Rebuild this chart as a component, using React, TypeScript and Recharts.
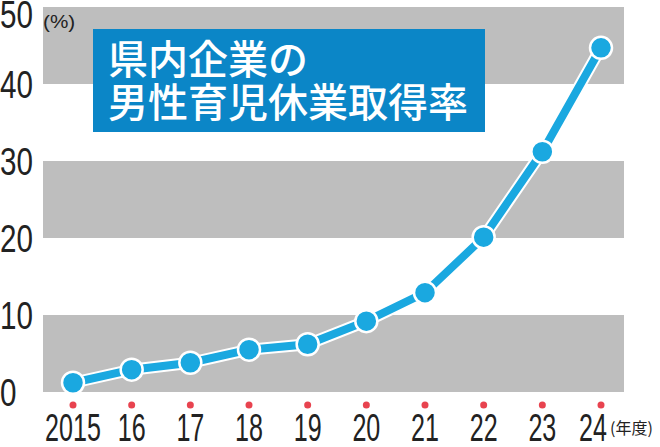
import { LineChart, Line, XAxis, YAxis, CartesianGrid } from 'recharts';

const YEARS = ['2015', '16', '17', '18', '19', '20', '21', '22', '23', '24'];
const RATES = [1.2, 2.9, 3.8, 5.5, 6.2, 9.2, 12.9, 20.1, 31.2, 44.7];
const Y_TICKS = [0, 10, 20, 30, 40, 50];
const TITLE = ['県内企業の', '男性育児休業取得率'];

const BLUE = '#1aa8e0';
const GRAY = '#bebebe';
const NUM_FONT = '"Liberation Sans", Arial, sans-serif';
const JP_FONT = '"Noto Sans CJK JP", "Noto Sans", sans-serif';

const data = YEARS.map((year, i) => ({ year, rate: RATES[i] }));

// condensed numerals: squeeze the glyphs horizontally
function YTick(props: any) {
  const { y, payload } = props;
  const base = Math.max(y + 14, 28);
  return (
    <g>
      <g transform={`translate(0,${base}) scale(0.76,1)`}>
        <text x={0} y={0} fontSize={39} fontFamily={NUM_FONT} fill="#222">
          {payload.value}
        </text>
      </g>
      {payload.value === 50 && (
        <g transform="translate(43,28) scale(1.15,1)">
          <text x={0} y={0} fontSize={18} fontFamily={NUM_FONT} fill="#222">
            (%)
          </text>
        </g>
      )}
    </g>
  );
}

function XTick(props: any) {
  const { x, payload, index } = props;
  const last = index === YEARS.length - 1;
  return (
    <g>
      <circle cx={x} cy={405} r={3.5} fill="#e8434f" />
      <g transform={`translate(${last ? x + 6 : x},441) scale(0.66,1)`}>
        <text
          x={0}
          y={0}
          textAnchor={last ? 'end' : 'middle'}
          fontSize={38}
          fontFamily={NUM_FONT}
          fill="#222"
        >
          {payload.value}
        </text>
      </g>
      {last && (
        <text x={x + 9} y={434} fontSize={16} fontFamily={JP_FONT} fill="#222">
          (年度)
        </text>
      )}
    </g>
  );
}

export default function App() {
  return (
    <div style={{ position: 'absolute', left: 0, top: 0, width: 660, height: 447, background: '#fff' }}>
      <LineChart width={660} height={447} data={data} margin={{ top: 7, right: 36, left: 0, bottom: 0 }}>
        <CartesianGrid
          vertical={false}
          stroke="none"
          horizontalFill={[GRAY, '#fff']}
          fillOpacity={1}
        />
        <XAxis
          dataKey="year"
          height={55}
          axisLine={false}
          tickLine={false}
          interval={0}
          padding={{ left: 30, right: 23 }}
          tick={<XTick />}
        />
        <YAxis
          domain={[0, 50]}
          ticks={Y_TICKS}
          width={43}
          axisLine={false}
          tickLine={false}
          interval={0}
          tick={<YTick />}
        />
        <Line
          dataKey="rate"
          stroke="#fff"
          strokeWidth={12}
          dot={false}
          activeDot={false}
          isAnimationActive={false}
        />
        <Line
          dataKey="rate"
          stroke={BLUE}
          strokeWidth={8}
          dot={{ r: 11, fill: BLUE, stroke: '#fff', strokeWidth: 2.5 }}
          activeDot={false}
          isAnimationActive={false}
        />
      </LineChart>
      <div
        style={{
          position: 'absolute',
          left: 93,
          top: 29,
          width: 377,
          height: 96,
          padding: '7px 0 0 15px',
          background: '#0b86c7',
          color: '#fff',
          fontFamily: JP_FONT,
          fontWeight: 500,
          fontSize: 40,
          lineHeight: '43px',
          whiteSpace: 'nowrap',
        }}
      >
        {TITLE.map((t) => (
          <div key={t}>{t}</div>
        ))}
      </div>
    </div>
  );
}
